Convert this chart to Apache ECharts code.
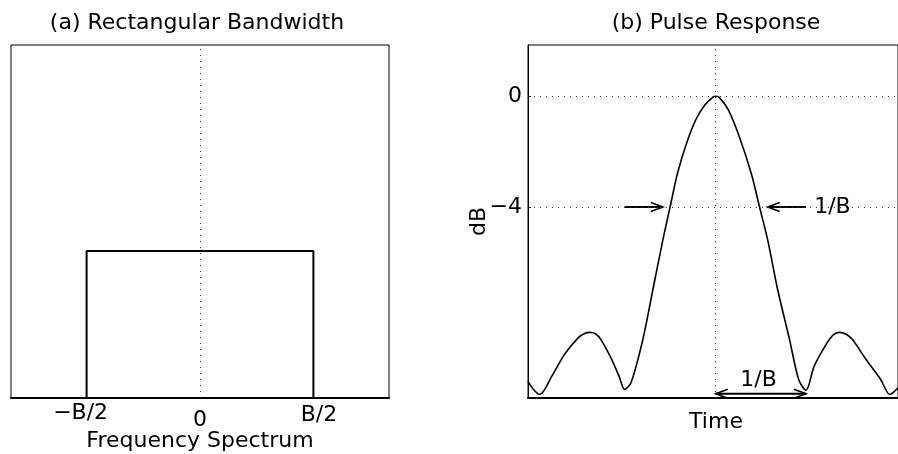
<!DOCTYPE html>
<html>
<head>
<meta charset="utf-8">
<script src="https://cdn.jsdelivr.net/npm/echarts@6/dist/echarts.min.js"></script>
<style>
  html, body { margin: 0; padding: 0; background: #fff; }
  #chart { width: 898px; height: 454px; }
</style>
</head>
<body>
<div id="chart"></div>
<script>
// (a) ideal rectangular spectrum, frequency in units of the half-span
const rectFreq = [-0.6, -0.6, 0.6, 0.6];
const rectLevel = [0, 1, 1, 0];
const freqTickValues = [-0.6, 0, 0.6];
const freqTickText = ['−B/2', '0', 'B/2'];

// (b) pulse response, time in units of 1/B, level in dB
const pulseTime = [-2.06, -2.00, -1.93, -1.80, -1.66, -1.51, -1.44, -1.38, -1.32, -1.26, -1.15, -1.06,
  -1.00, -0.93, -0.80, -0.69, -0.58, -0.50, -0.42, -0.32, -0.22, -0.12, -0.03, 0, 0.04, 0.14,
  0.26, 0.39, 0.48, 0.57, 0.68, 0.81, 0.91, 0.99, 1.08, 1.21, 1.29, 1.36, 1.43, 1.50, 1.65,
  1.81, 1.91, 2.00];
const pulseDb = [-10.30, -10.59, -10.77, -10.12, -9.33, -8.73, -8.57, -8.53, -8.58, -8.79, -9.45, -10.12,
  -10.59, -10.35, -8.79, -6.99, -5.19, -3.99, -2.79, -1.70, -0.86, -0.32, -0.03, 0, -0.05, -0.50,
  -1.47, -2.79, -3.99, -5.19, -6.99, -8.79, -10.23, -10.62, -9.75, -8.97, -8.62, -8.53, -8.60, -8.79, -9.51,
  -10.23, -10.77, -10.53];
const dbTickValues = [0, -4];
const dbTickText = ['0', '−4'];

// width annotations: [x from, y from, x to (tip), y to, heads at both ends]
const arrowFromX = [-1.00, 0.99, 0.00];
const arrowFromY = [-4, -4, -10.75];
const arrowToX = [-0.58, 0.57, 0.99];
const arrowToY = [-4, -4, -10.75];
const arrowBoth = [0, 0, 1];
const noteText = ['1/B', '1/B'];
const noteX = [1.08, 0.47];
const noteY = [-4, -10.27];
const noteAlign = ['left', 'center'];

const FONT = 'DejaVu Sans';
const FS = 22;
const INK = '#000';

const chart = echarts.init(document.getElementById('chart'), null, { renderer: 'canvas' });

function zip(a, b) { return a.map((v, i) => [v, b[i]]); }

const dotted = { color: '#333', width: 1, type: [1, 5] };

const rich = {
  s0: { fontFamily: FONT, fontSize: FS, color: INK, padding: [0, 12, 0, 0] },
  s1: { fontFamily: FONT, fontSize: FS, color: INK, padding: [7, 0, 0, 0] },
  s2: { fontFamily: FONT, fontSize: FS, color: INK, padding: [2, 0, 0, 11] }
};

function arrowHead(tip, from, len, half) {
  const dx = tip[0] - from[0], dy = tip[1] - from[1];
  const d = Math.hypot(dx, dy) || 1;
  const ux = dx / d, uy = dy / d;
  const bx = tip[0] - ux * len, by = tip[1] - uy * len;
  return {
    type: 'polyline',
    shape: { points: [[bx - uy * half, by + ux * half], tip, [bx + uy * half, by - ux * half]] },
    style: { stroke: INK, lineWidth: 1.6, fill: null }
  };
}

const option = {
  animation: false,
  backgroundColor: '#fff',
  textStyle: { fontFamily: FONT },
  graphic: [
    { type: 'text', x: 197, y: 23, style: { text: '(a) Rectangular Bandwidth', font: FS + 'px "' + FONT + '"', fill: INK, align: 'center', verticalAlign: 'middle' } },
    { type: 'text', x: 716, y: 23, style: { text: '(b) Pulse Response', font: FS + 'px "' + FONT + '"', fill: INK, align: 'center', verticalAlign: 'middle' } }
  ],
  grid: [
    { left: 11, top: 45, width: 378, height: 353, show: true, borderColor: INK, borderWidth: 1, containLabel: false, outerBoundsMode: 'none' },
    { left: 528, top: 45, width: 370, height: 353, show: true, borderColor: INK, borderWidth: 1, containLabel: false, outerBoundsMode: 'none' }
  ],
  xAxis: [
    {
      gridIndex: 0, type: 'value', min: -1, max: 1,
      axisLine: { show: true, onZero: false, lineStyle: { color: INK, width: 2 } },
      axisTick: { show: false },
      splitLine: { show: false },
      axisLabel: {
        show: true, margin: 4, customValues: freqTickValues,
        formatter: function (v) {
          const i = freqTickValues.indexOf(v);
          return '{s' + i + '|' + freqTickText[i] + '}';
        },
        rich: rich
      },
      name: 'Frequency Spectrum', nameLocation: 'middle', nameGap: 32, nameMoveOverlap: false,
      nameTextStyle: { fontFamily: FONT, fontSize: FS, color: INK }
    },
    {
      gridIndex: 1, type: 'value', min: -2.06, max: 2.0,
      axisLine: { show: true, onZero: false, lineStyle: { color: INK, width: 2 } },
      axisTick: { show: false },
      axisLabel: { show: false },
      splitLine: { show: false },
      name: 'Time', nameLocation: 'middle', nameGap: 13, nameMoveOverlap: false,
      nameTextStyle: { fontFamily: FONT, fontSize: FS, color: INK, padding: [0, 0, 0, 6] }
    }
  ],
  yAxis: [
    {
      gridIndex: 0, type: 'value', min: 0, max: 2.4,
      axisLine: { show: false, onZero: false }, axisTick: { show: false },
      axisLabel: { show: false }, splitLine: { show: false }
    },
    {
      gridIndex: 1, type: 'value', min: -10.9, max: 1.85,
      axisLine: { show: true, onZero: false, lineStyle: { color: INK, width: 1 } },
      axisTick: { show: true, inside: true, length: 3, customValues: dbTickValues, lineStyle: { color: INK } },
      axisLabel: {
        show: true, margin: 6, customValues: dbTickValues,
        formatter: function (v) { return dbTickText[dbTickValues.indexOf(v)]; },
        fontFamily: FONT, fontSize: FS, color: INK
      },
      splitLine: { show: false },
      name: 'dB', nameLocation: 'middle', nameGap: 38, nameRotate: 90, nameMoveOverlap: false,
      nameTextStyle: { fontFamily: FONT, fontSize: FS, color: INK }
    }
  ],
  series: [
    {
      type: 'line', xAxisIndex: 0, yAxisIndex: 0,
      data: zip(rectFreq, rectLevel),
      showSymbol: false, symbol: 'none',
      lineStyle: { color: INK, width: 2 },
      markLine: {
        silent: true, symbol: 'none', label: { show: false },
        lineStyle: dotted,
        data: [{ xAxis: 0 }]
      },
      z: 3
    },
    {
      type: 'line', xAxisIndex: 1, yAxisIndex: 1,
      data: zip(pulseTime, pulseDb),
      showSymbol: false, symbol: 'none', smooth: 0.3,
      lineStyle: { color: INK, width: 1.6 },
      markLine: {
        silent: true, symbol: 'none', label: { show: false },
        lineStyle: dotted,
        data: [{ xAxis: 0 }, { yAxis: 0 }, { yAxis: -4 }]
      },
      z: 3
    },
    {
      type: 'custom', xAxisIndex: 1, yAxisIndex: 1,
      data: arrowFromX.map((x, i) => [x, arrowFromY[i], arrowToX[i], arrowToY[i], arrowBoth[i]]),
      encode: { x: [0, 2], y: [1, 3] },
      renderItem: function (params, api) {
        const a = api.coord([api.value(0), api.value(1)]);
        const b = api.coord([api.value(2), api.value(3)]);
        const children = [
          { type: 'line', shape: { x1: a[0], y1: a[1], x2: b[0], y2: b[1] }, style: { stroke: INK, lineWidth: 2 } },
          arrowHead(b, a, 12, 4.5)
        ];
        if (api.value(4)) children.push(arrowHead(a, b, 12, 4.5));
        return { type: 'group', children: children };
      },
      z: 4
    },
    {
      type: 'custom', xAxisIndex: 1, yAxisIndex: 1,
      data: noteX.map((x, i) => [x, noteY[i], i]),
      encode: { x: 0, y: 1 },
      renderItem: function (params, api) {
        const p = api.coord([api.value(0), api.value(1)]);
        const i = api.value(2);
        return {
          type: 'text', x: p[0], y: p[1],
          style: { text: noteText[i], font: FS + 'px "' + FONT + '"', fill: INK, align: noteAlign[i], verticalAlign: 'middle' }
        };
      },
      z: 4
    }
  ]
};

chart.setOption(option);
</script>
</body>
</html>
